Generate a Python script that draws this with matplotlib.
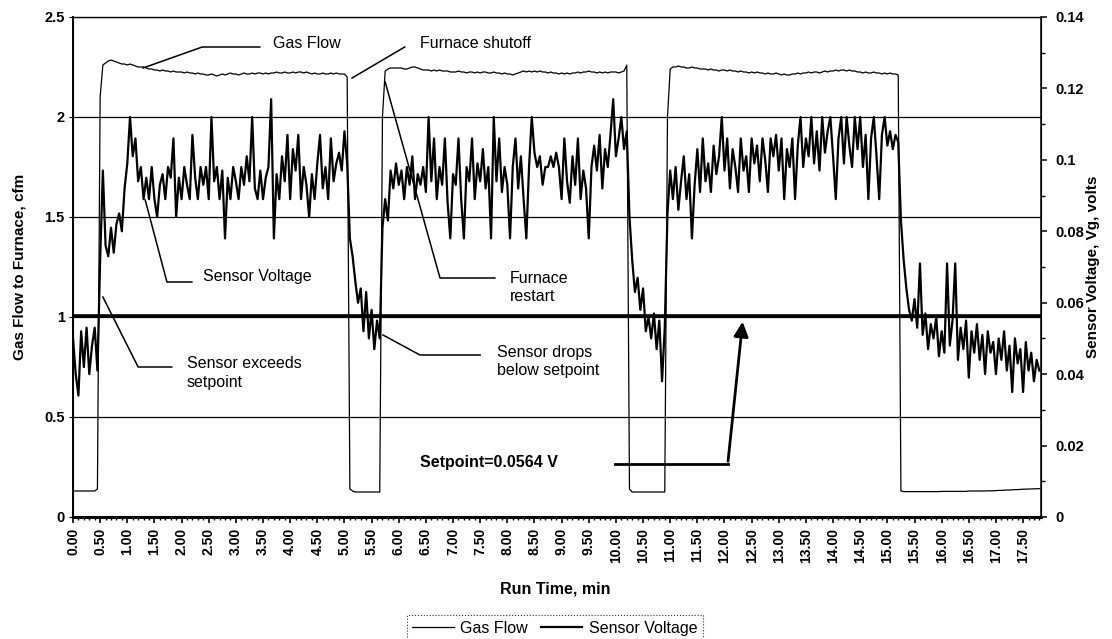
import numpy as np
import matplotlib
matplotlib.use("Agg")
import matplotlib.pyplot as plt
from matplotlib.ticker import FixedLocator, MultipleLocator

plt.rcParams['font.family'] = ['Liberation Sans', 'DejaVu Sans']

# sampling interval of the logger, minutes
SAMPLE_MIN = 0.05

# gas flow to furnace (cfm), one row = 0.5 min
gas_flow = [
    0.13, 0.13, 0.13, 0.13, 0.13, 0.13, 0.13, 0.13, 0.13, 0.14,
    2.10, 2.26, 2.27, 2.28, 2.285, 2.28, 2.275, 2.27, 2.265, 2.265,
    2.26, 2.265, 2.26, 2.255, 2.25, 2.25, 2.25, 2.245, 2.24, 2.24,
    2.235, 2.235, 2.23, 2.235, 2.23, 2.23, 2.225, 2.23, 2.225, 2.225,
    2.225, 2.22, 2.225, 2.22, 2.22, 2.215, 2.22, 2.215, 2.215, 2.21,
    2.21, 2.215, 2.21, 2.205, 2.21, 2.215, 2.21, 2.215, 2.22, 2.215,
    2.215, 2.21, 2.215, 2.22, 2.215, 2.215, 2.22, 2.215, 2.22, 2.22,
    2.215, 2.22, 2.215, 2.22, 2.22, 2.225, 2.22, 2.22, 2.225, 2.22,
    2.22, 2.225, 2.22, 2.225, 2.225, 2.22, 2.225, 2.22, 2.215, 2.22,
    2.215, 2.215, 2.22, 2.215, 2.215, 2.22, 2.215, 2.22, 2.215, 2.215,
    2.215, 2.20, 0.14, 0.13, 0.125, 0.125, 0.125, 0.125, 0.125, 0.125,
    0.125, 0.125, 0.125, 0.125, 2.00, 2.23, 2.24, 2.245, 2.245, 2.245,
    2.245, 2.245, 2.24, 2.24, 2.245, 2.25, 2.25, 2.245, 2.24, 2.235,
    2.235, 2.235, 2.23, 2.235, 2.23, 2.235, 2.23, 2.23, 2.23, 2.225,
    2.225, 2.225, 2.23, 2.225, 2.225, 2.22, 2.225, 2.225, 2.22, 2.225,
    2.22, 2.225, 2.225, 2.22, 2.22, 2.225, 2.22, 2.22, 2.215, 2.22,
    2.215, 2.215, 2.21, 2.215, 2.22, 2.225, 2.23, 2.225, 2.23, 2.225,
    2.23, 2.225, 2.23, 2.225, 2.225, 2.22, 2.225, 2.22, 2.22, 2.215,
    2.22, 2.215, 2.22, 2.215, 2.22, 2.22, 2.225, 2.22, 2.225, 2.225,
    2.23, 2.225, 2.225, 2.22, 2.225, 2.22, 2.225, 2.22, 2.225, 2.225,
    2.225, 2.22, 2.225, 2.23, 2.26, 0.14, 0.125, 0.125, 0.125, 0.125,
    0.125, 0.125, 0.125, 0.125, 0.125, 0.125, 0.125, 0.125, 0.125, 2.00,
    2.24, 2.25, 2.25, 2.255, 2.25, 2.25, 2.245, 2.245, 2.25, 2.245,
    2.245, 2.24, 2.24, 2.24, 2.235, 2.24, 2.235, 2.235, 2.23, 2.235,
    2.235, 2.23, 2.235, 2.23, 2.23, 2.225, 2.23, 2.225, 2.225, 2.22,
    2.225, 2.22, 2.225, 2.22, 2.22, 2.215, 2.22, 2.215, 2.215, 2.22,
    2.215, 2.21, 2.215, 2.21, 2.21, 2.215, 2.215, 2.22, 2.215, 2.22,
    2.22, 2.225, 2.22, 2.225, 2.225, 2.22, 2.225, 2.23, 2.225, 2.23,
    2.23, 2.235, 2.23, 2.235, 2.235, 2.23, 2.235, 2.23, 2.23, 2.225,
    2.225, 2.22, 2.225, 2.22, 2.22, 2.225, 2.22, 2.22, 2.215, 2.22,
    2.215, 2.22, 2.215, 2.215, 2.21, 0.13, 0.127, 0.127, 0.127, 0.127,
    0.127, 0.127, 0.127, 0.127, 0.127, 0.127, 0.127, 0.127, 0.127, 0.127,
    0.128, 0.128, 0.128, 0.128, 0.128, 0.128, 0.128, 0.128, 0.128, 0.128,
    0.13, 0.13, 0.13, 0.13, 0.13, 0.13, 0.13, 0.131, 0.131, 0.131,
    0.132, 0.133, 0.133, 0.134, 0.135, 0.135, 0.136, 0.137, 0.137, 0.138,
    0.139, 0.139, 0.14, 0.14, 0.141, 0.141, 0.142,
]

# sensor voltage Vg (volts), same sampling
sensor_volts = [
    0.050, 0.040, 0.034, 0.052, 0.042, 0.053, 0.040, 0.048, 0.053, 0.041,
    0.072, 0.097, 0.076, 0.073, 0.081, 0.074, 0.082, 0.085, 0.080, 0.092,
    0.099, 0.112, 0.101, 0.106, 0.094, 0.098, 0.089, 0.095, 0.089, 0.098,
    0.089, 0.084, 0.093, 0.096, 0.089, 0.098, 0.095, 0.106, 0.084, 0.095,
    0.089, 0.098, 0.093, 0.089, 0.107, 0.095, 0.089, 0.098, 0.093, 0.098,
    0.089, 0.112, 0.094, 0.098, 0.089, 0.097, 0.078, 0.095, 0.089, 0.098,
    0.094, 0.089, 0.098, 0.093, 0.101, 0.094, 0.112, 0.092, 0.089, 0.097,
    0.089, 0.095, 0.098, 0.117, 0.078, 0.096, 0.089, 0.101, 0.094, 0.107,
    0.089, 0.103, 0.097, 0.107, 0.089, 0.098, 0.093, 0.084, 0.096, 0.089,
    0.099, 0.107, 0.092, 0.098, 0.089, 0.106, 0.094, 0.099, 0.102, 0.097,
    0.108, 0.099, 0.078, 0.073, 0.066, 0.060, 0.064, 0.052, 0.063, 0.050,
    0.058, 0.047, 0.055, 0.050, 0.081, 0.089, 0.083, 0.097, 0.092, 0.099,
    0.093, 0.097, 0.089, 0.098, 0.093, 0.101, 0.089, 0.096, 0.093, 0.098,
    0.091, 0.112, 0.094, 0.106, 0.089, 0.098, 0.093, 0.106, 0.088, 0.078,
    0.096, 0.093, 0.106, 0.089, 0.078, 0.098, 0.094, 0.106, 0.089, 0.099,
    0.094, 0.103, 0.092, 0.098, 0.078, 0.112, 0.094, 0.106, 0.091, 0.098,
    0.093, 0.078, 0.098, 0.106, 0.092, 0.101, 0.089, 0.078, 0.098, 0.112,
    0.102, 0.098, 0.101, 0.093, 0.098, 0.098, 0.101, 0.098, 0.102, 0.098,
    0.089, 0.106, 0.094, 0.088, 0.101, 0.093, 0.106, 0.089, 0.097, 0.092,
    0.078, 0.098, 0.104, 0.097, 0.107, 0.092, 0.103, 0.098, 0.107, 0.117,
    0.101, 0.106, 0.112, 0.103, 0.108, 0.084, 0.072, 0.063, 0.067, 0.058,
    0.064, 0.052, 0.056, 0.050, 0.057, 0.047, 0.055, 0.038, 0.053, 0.085,
    0.097, 0.089, 0.098, 0.086, 0.094, 0.101, 0.089, 0.096, 0.078, 0.093,
    0.103, 0.091, 0.106, 0.094, 0.099, 0.091, 0.104, 0.096, 0.101, 0.112,
    0.097, 0.106, 0.092, 0.103, 0.098, 0.091, 0.106, 0.097, 0.101, 0.091,
    0.106, 0.099, 0.104, 0.094, 0.106, 0.100, 0.091, 0.106, 0.101, 0.107,
    0.097, 0.106, 0.089, 0.103, 0.098, 0.106, 0.089, 0.104, 0.112, 0.098,
    0.106, 0.101, 0.112, 0.099, 0.108, 0.097, 0.112, 0.102, 0.108, 0.112,
    0.101, 0.089, 0.106, 0.112, 0.099, 0.112, 0.104, 0.098, 0.112, 0.103,
    0.112, 0.098, 0.107, 0.089, 0.106, 0.112, 0.101, 0.089, 0.107, 0.112,
    0.104, 0.108, 0.103, 0.107, 0.105, 0.083, 0.072, 0.064, 0.058, 0.055,
    0.061, 0.053, 0.071, 0.051, 0.057, 0.047, 0.054, 0.050, 0.056, 0.045,
    0.052, 0.046, 0.071, 0.048, 0.055, 0.071, 0.044, 0.053, 0.047, 0.055,
    0.039, 0.052, 0.046, 0.054, 0.044, 0.051, 0.040, 0.052, 0.046, 0.049,
    0.040, 0.050, 0.044, 0.052, 0.041, 0.048, 0.035, 0.050, 0.043, 0.047,
    0.035, 0.049, 0.041, 0.046, 0.038, 0.044, 0.041,
]

SETPOINT_V = 0.0564
x_ticks = np.arange(0, 17.51, 0.5)
flow_ticks = [0, 0.5, 1, 1.5, 2, 2.5]
flow_tick_labels = ['0', '0.5', '1', '1.5', '2', '2.5']
volt_ticks = [0, 0.02, 0.04, 0.06, 0.08, 0.10, 0.12, 0.14]
volt_tick_labels = ['0', '0.02', '0.04', '0.06', '0.08', '0.1', '0.12', '0.14']

run_time = np.arange(len(gas_flow)) * SAMPLE_MIN

fig, ax = plt.subplots(figsize=(11.12, 6.39), dpi=100)
fig.subplots_adjust(left=73 / 1112, right=1041 / 1112, bottom=1 - 517 / 639, top=1 - 17 / 639)
ax2 = ax.twinx()

# --- primary axis: gas flow
ax.set_xlim(0, 17.83)
ax.set_ylim(0, 2.5)
ax.yaxis.set_major_locator(FixedLocator(flow_ticks))
ax.set_yticklabels(flow_tick_labels, fontsize=10.5, fontweight='bold')
ax.grid(axis='y', color='black', lw=0.9)
ax.set_axisbelow(True)
gas_line, = ax.plot(run_time, gas_flow, color='black', lw=0.9, label='Gas Flow')

ax.set_xticks(x_ticks)
ax.set_xticklabels([f"{v:.2f}" for v in x_ticks], rotation=90, fontsize=10, fontweight='bold')
ax.xaxis.set_minor_locator(MultipleLocator(0.1))
ax.tick_params(axis='x', which='major', length=4, width=1.2, pad=4)
ax.tick_params(axis='x', which='minor', length=2.5, width=1)
ax.tick_params(axis='y', length=3, pad=3)
ax.spines['bottom'].set_linewidth(2.2)
ax.spines['left'].set_linewidth(1.4)
ax.spines['top'].set_linewidth(0.9)

ax.set_xlabel('Run Time, min', fontsize=11.5, fontweight='bold')
ax.xaxis.set_label_coords(0.498, -0.128)
ax.set_ylabel('Gas Flow to Furnace, cfm', fontsize=11, fontweight='bold')
ax.yaxis.set_label_coords(-0.048, 0.5)

# --- secondary axis: sensor voltage
ax2.set_ylim(0, 0.14)
ax2.yaxis.set_major_locator(FixedLocator(volt_ticks))
ax2.set_yticklabels(volt_tick_labels, fontsize=10.5, fontweight='bold')
ax2.yaxis.set_minor_locator(MultipleLocator(0.01))
ax2.tick_params(axis='y', which='major', length=4, width=1.1, pad=6)
ax2.tick_params(axis='y', which='minor', length=3, width=1)
ax2.spines['right'].set_linewidth(1.1)
ax2.set_ylabel('Sensor Voltage, Vg, volts', fontsize=11, fontweight='bold')
ax2.yaxis.set_label_coords(1.047, 0.5)
sensor_line, = ax2.plot(run_time, sensor_volts, color='black', lw=1.6, label='Sensor Voltage')
ax2.axhline(SETPOINT_V, color='black', lw=2.6)

# --- callouts, placed in gas-flow coordinates
tr = ax.transData
note = dict(fontsize=11.5, transform=tr, va='center', ha='left')
leader = dict(color='black', lw=1.1, transform=tr, clip_on=False)

ax2.text(3.68, 2.37, 'Gas Flow', **note)
ax2.plot([3.44, 2.38, 1.29], [2.35, 2.35, 2.245], **leader)

ax2.text(6.39, 2.37, 'Furnace shutoff', **note)
ax2.plot([6.11, 5.14], [2.35, 2.195], **leader)

ax2.text(2.39, 1.20, 'Sensor Voltage', **note)
ax2.plot([2.19, 1.73, 1.33], [1.175, 1.175, 1.585], **leader)

ax2.text(8.05, 1.15, 'Furnace\nrestart', linespacing=1.25, **note)
ax2.plot([7.77, 6.76, 5.75], [1.195, 1.195, 2.175], **leader)

ax2.text(2.10, 0.72, 'Sensor exceeds\nsetpoint', linespacing=1.25, **note)
ax2.plot([1.82, 1.20, 0.55], [0.75, 0.75, 1.10], **leader)

ax2.text(7.81, 0.775, 'Sensor drops\nbelow setpoint', linespacing=1.25, **note)
ax2.plot([7.50, 6.39, 5.71], [0.81, 0.81, 0.91], **leader)

ax2.text(6.39, 0.275, 'Setpoint=0.0564 V', fontsize=11.5, fontweight='bold',
         transform=tr, va='center', ha='left')
ax2.plot([9.98, 12.06], [0.265, 0.265], color='black', lw=2, transform=tr)
ax2.annotate('', xy=(12.34, 0.99), xytext=(12.06, 0.265),
             xycoords=tr, textcoords=tr,
             arrowprops=dict(arrowstyle='-|>', color='black', lw=2, mutation_scale=22))

leg = fig.legend(handles=[gas_line, sensor_line], loc='upper center',
                 bbox_to_anchor=(0.499, 1 - 607 / 639), ncol=2, fontsize=11.5,
                 handlelength=2.6, handletextpad=0.4, columnspacing=0.8,
                 fancybox=False, edgecolor='black', borderpad=0.35)
leg.get_frame().set_linewidth(0.8)
leg.get_frame().set_linestyle(':')

fig.savefig('out.png', dpi=100)
